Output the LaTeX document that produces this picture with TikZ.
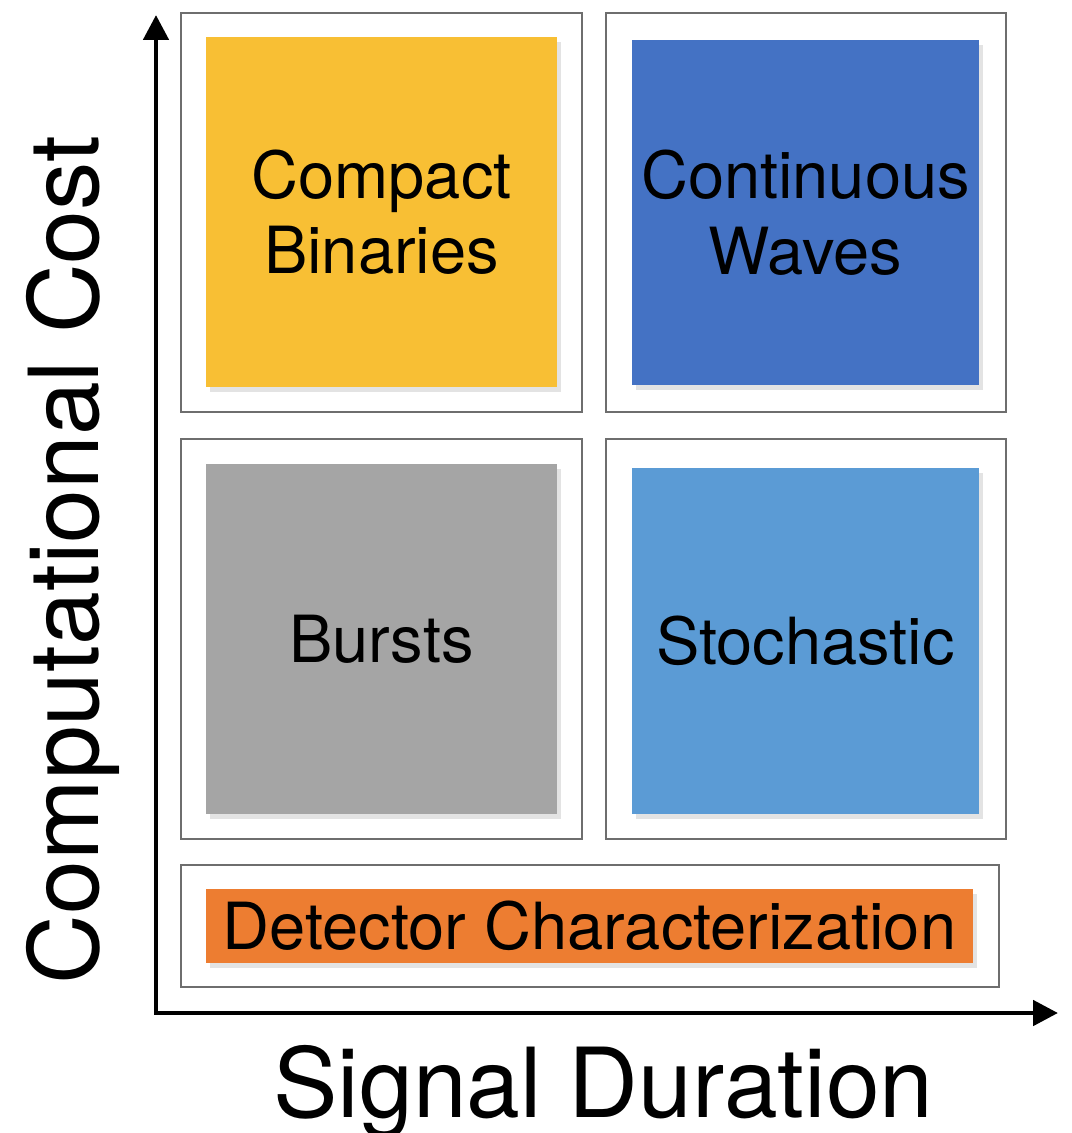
\documentclass[tikz,border=0pt]{standalone}
\usepackage{fontspec}
\setmainfont{TeX Gyre Heros}
\usetikzlibrary{arrows.meta,shadows}

\definecolor{cbcyellow}{HTML}{F8BF34}
\definecolor{cwblue}{HTML}{4472C4}
\definecolor{burstgray}{HTML}{A5A5A5}
\definecolor{stochblue}{HTML}{5B9BD5}
\definecolor{detorange}{HTML}{ED7D31}
\definecolor{framegray}{HTML}{6E6E6E}

\tikzset{
  frame/.style={draw=framegray, line width=0.85pt, inner sep=0pt},
  group/.style={fill=#1, inner sep=0pt, align=center,
    font=\fontsize{37}{43}\selectfont,
    drop shadow={opacity=0.22, shadow xshift=2.5pt, shadow yshift=-3pt}},
  axis/.style={line width=2.8pt, {Triangle[length=0.5cm,width=0.5cm]}-{Triangle[length=0.5cm,width=0.5cm]}},
  axislabel/.style={font=\fontsize{55}{60}\selectfont, inner sep=0pt, anchor=base}
}

\begin{document}
\begin{tikzpicture}[x=0.02cm, y=-0.02cm]
\useasboundingbox (0,0) rectangle (1072,1133);
% outer frames
\node[frame, minimum width=8.02cm, minimum height=7.98cm](tlframe) at (381.5, 212.5) {};
\node[frame, minimum width=8.0cm, minimum height=7.98cm](trframe) at (806, 212.5) {};
\node[frame, minimum width=8.02cm, minimum height=8.0cm](mlframe) at (381.5, 639) {};
\node[frame, minimum width=8.0cm, minimum height=8.0cm](mrframe) at (806, 639) {};
\node[frame, minimum width=16.36cm, minimum height=2.44cm](botframe) at (590, 926) {};
% search groups
\node[group=cbcyellow, minimum width=7.02cm, minimum height=7.0cm](cbc) at (381.5, 212) {Compact\\Binaries};
\node[group=cwblue, minimum width=6.94cm, minimum height=6.9cm](cw) at (805.5, 212.5) {Continuous\\Waves};
\node[group=burstgray, minimum width=7.02cm, minimum height=7.0cm](burst) at (381.5, 639) {Bursts};
\node[group=stochblue, minimum width=6.94cm, minimum height=6.92cm](stoch) at (805.5, 641) {Stochastic};
\node[group=detorange, minimum width=15.34cm, minimum height=1.48cm](detchar) at (589.5, 926) {Detector Characterization};
% axes
\coordinate (origin) at (156, 1013);
\coordinate (ytip) at (156, 15);
\coordinate (xtip) at (1058, 1013);
\draw[axis] (ytip) -- (origin) -- (xtip);
\node[axislabel, rotate=90](ylabel) at (98, 560) {Computational Cost};
\node[axislabel](xlabel) at (603.5, 1117) {Signal Duration};
\end{tikzpicture}
\end{document}
